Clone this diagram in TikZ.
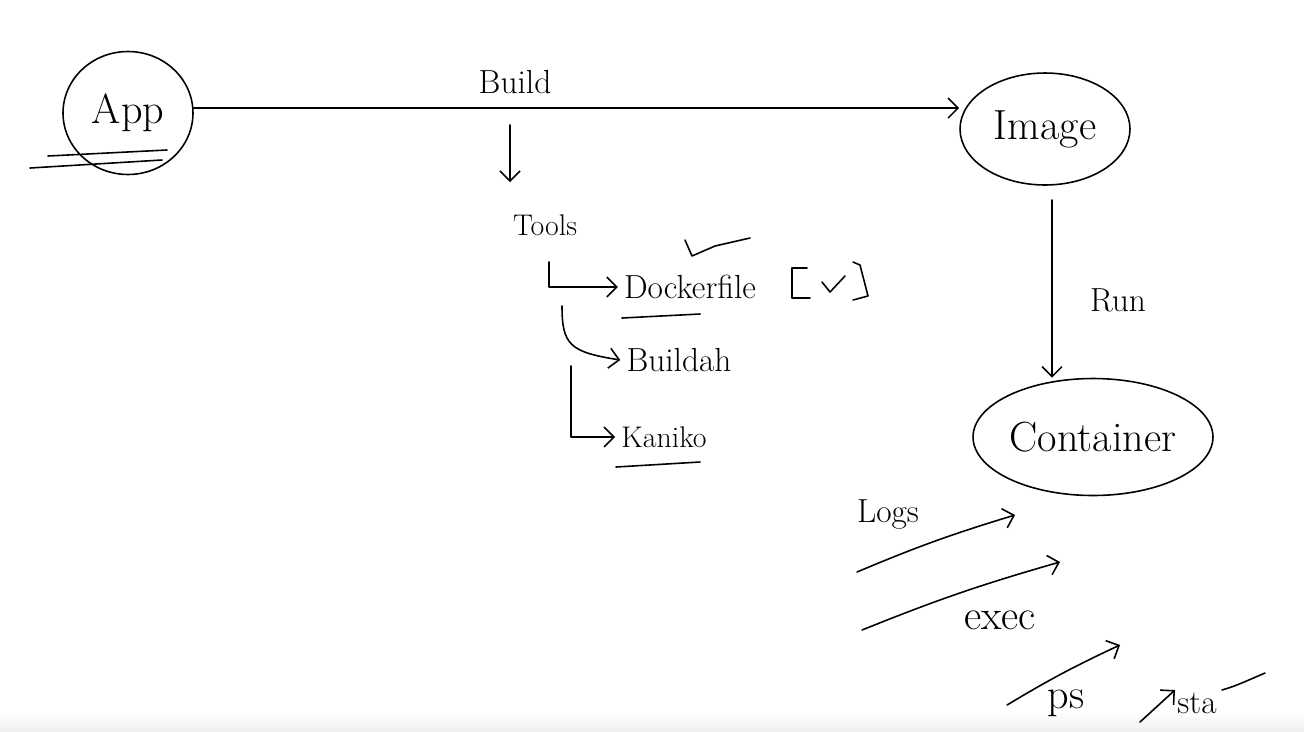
\documentclass[tikz,border=0pt]{standalone}
\usepackage{fontspec}
\usetikzlibrary{shapes.geometric,arrows.meta}
\tikzset{
  ink/.style={line width=0.9pt, line cap=round, line join=round},
  bubble/.style={ink, draw, ellipse, inner sep=0pt},
  flow/.style={ink, -{Straight Barb[length=2mm,width=4mm]}},
  bigword/.style={font=\fontsize{24}{28}\selectfont},
  word/.style={font=\fontsize{19}{23}\selectfont},
  smallword/.style={font=\fontsize{17}{20}\selectfont},
}
\begin{document}
\begin{tikzpicture}[x=0.02cm, y=-0.02cm]
    % page and light band at the bottom
    \useasboundingbox (0,0) rectangle (1304,731);
    \shade[top color=white, bottom color=gray!12] (0,712) rectangle (1304,731);

    % Draw the three bubbles
    \node[bubble, bigword, minimum width=2.6cm, minimum height=2.46cm] (app) at (128,113) {App};
    \node[bubble, bigword, minimum width=3.4cm, minimum height=2.24cm] (image) at (1045,129) {Image};
    \node[bubble, bigword, minimum width=4.8cm, minimum height=2.34cm] (container) at (1093,437) {Container};

    % App underline strokes
    \draw[ink] (30,168) -- (162,160);
    \draw[ink] (48,156) -- (167,150);

    % Build step
    \draw[flow] (app.east |- 0,108) -- (image.west |- 0,108);
    \node[word] (build) at (515,82) {Build};
    \coordinate (forktop) at (510,125);
    \coordinate (forkend) at (510,182);
    \draw[flow] (forktop) -- (forkend);

    % Tools list
    \node[smallword] (tools) at (545,225) {Tools};
    \node[word] (docker) at (690,287) {Dockerfile};
    \node[word] (buildah) at (679,360) {Buildah};
    \node[smallword] (kaniko) at (664,437) {Kaniko};
    \draw[flow] (549,262) |- (docker.west);
    \draw[flow] (562,306) .. controls (562,345) and (570,352) .. (buildah.west);
    \draw[flow] (571,366) |- (kaniko.west);

    % marks round the tools
    \draw[ink] (622,318) -- (700,314);
    \draw[ink] (616,467) -- (700,462);
    \draw[ink] (685,240) -- (692,256) -- (715,246) -- (750,238);
    \draw[ink] (807,268) -- (792,268) -- (792,298) -- (810,298);
    \draw[ink] (822,282) -- (830,292) -- (845,276);
    \draw[ink] (853,262) -- (860,265) -- (868,296) -- (853,300);

    % Run step
    \node[word] (run) at (1118,300) {Run};
    \coordinate (runtop) at (1052,200);
    \draw[flow] (runtop) -- (runtop |- container.north);

    % Commands on the container
    \node[word] (logs) at (888,514) {Logs};
    \node[bigword] (exec) at (1000,620) {exec};
    \node[bigword] (ps) at (1066,703) {ps};
    \node[word] (stats) at (1197,703) {sta};
    \coordinate (logsfrom) at (857,572);
    \coordinate (logsto) at (1015,515);
    \coordinate (execfrom) at (862,630);
    \coordinate (execto) at (1060,562);
    \coordinate (psfrom) at (1007,705);
    \coordinate (psto) at (1120,645);
    \coordinate (statsfrom) at (1140,722);
    \coordinate (statsto) at (1175,690);
    \draw[flow] (logsfrom) to[bend left=3] (logsto);
    \draw[flow] (execfrom) to[bend left=3] (execto);
    \draw[flow] (psfrom) to[bend left=3] (psto);
    \draw[flow] (statsfrom) -- (statsto);
    \draw[ink] (1222,690) .. controls (1235,686) .. (1265,673);
\end{tikzpicture}
\end{document}
